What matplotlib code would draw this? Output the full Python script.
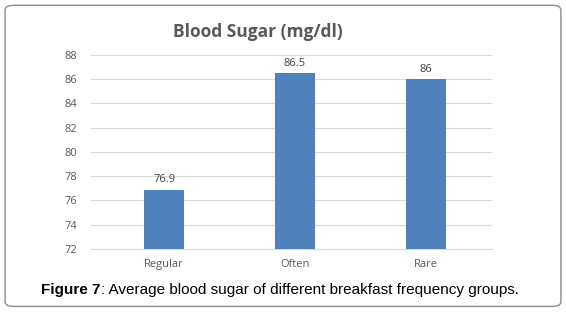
import matplotlib.pyplot as plt
from matplotlib.patches import FancyBboxPatch

groups = ['Regular', 'Often', 'Rare']
sugar = [76.9, 86.5, 86.0]
bar_labels = ['76.9', '86.5', '86']
yticks = [72, 74, 76, 78, 80, 82, 84, 86, 88]


def main():
    fig = plt.figure(figsize=(5.66, 3.12), dpi=100)

    # rounded frame round the whole figure
    frame = FancyBboxPatch((0.009, 0.018), 0.982, 0.965,
                           boxstyle='round,pad=0,rounding_size=0.015',
                           transform=fig.transFigure, fill=False,
                           edgecolor='#8c8c8c', linewidth=1.0)
    fig.patches.append(frame)

    ax = fig.add_axes([0.161, 0.202, 0.708, 0.622])
    ax.bar(range(len(groups)), [v - 72 for v in sugar], bottom=72,
           width=0.31, color='#4f81bd', zorder=3)
    for i, (v, lab) in enumerate(zip(sugar, bar_labels)):
        ax.text(i, v + 0.35, lab, ha='center', va='bottom', fontsize=8,
                color='#404040', family='Open Sans')

    ax.set_ylim(72, 88)
    ax.set_xlim(-0.557, 2.503)
    ax.set_yticks(yticks)
    ax.set_xticks(range(len(groups)))
    ax.set_xticklabels(groups, family='Open Sans', fontsize=8, color='#595959')
    for t in ax.get_yticklabels():
        t.set_family('Open Sans')
        t.set_fontsize(8)
        t.set_color('#595959')
    ax.grid(axis='y', color='#d9d9d9', linewidth=0.8, zorder=0)
    ax.tick_params(length=0, pad=10)
    ax.tick_params(axis='x', pad=7)
    for s in ['top', 'right', 'left']:
        ax.spines[s].set_visible(False)
    ax.spines['bottom'].set_color('#d9d9d9')

    fig.text(0.455, 0.897, 'Blood Sugar (mg/dl)', ha='center', va='center',
             fontsize=12.5, fontweight='bold', color='#595959', family='Open Sans')

    # caption: bold lead-in followed directly by plain text
    lead = fig.text(0.073, 0.07, 'Figure 7', ha='left', va='center',
                    fontsize=11, fontweight='bold', family='Liberation Sans')
    fig.canvas.draw()
    bb = lead.get_window_extent().transformed(fig.transFigure.inverted())
    fig.text(bb.x1, 0.07, ': Average blood sugar of different breakfast frequency groups.',
             ha='left', va='center', fontsize=11, family='Liberation Sans')

    fig.savefig('out.png', dpi=100)


if __name__ == '__main__':
    main()
